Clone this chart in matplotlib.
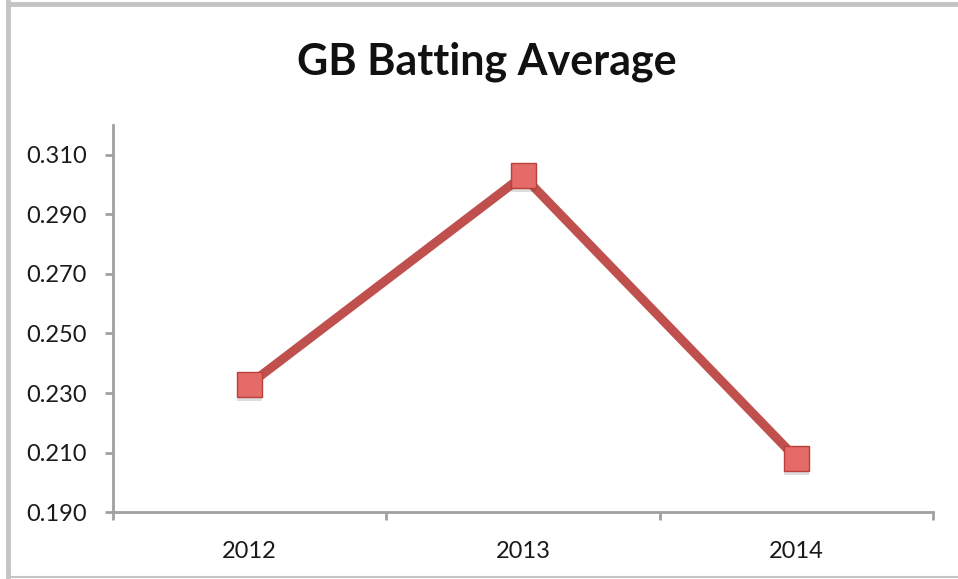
import matplotlib
matplotlib.use("Agg")
import matplotlib.pyplot as plt
import matplotlib.patheffects as pe
from matplotlib.lines import Line2D

years = ["2012", "2013", "2014"]
batting_avg = [0.233, 0.303, 0.208]
y_ticks = [0.190, 0.210, 0.230, 0.250, 0.270, 0.290, 0.310]

plt.rcParams['font.family'] = ['Lato', 'DejaVu Sans']

fig = plt.figure(figsize=(9.58, 5.79), dpi=100)
ax = fig.add_axes([0.118, 0.1157, 0.856, 0.668])

x = list(range(len(years)))
line_color = "#C0504D"
ax.plot(x, batting_avg, color=line_color, linewidth=6.5, solid_capstyle="butt",
        zorder=2)
ax.plot(x, batting_avg, linestyle="none", marker="s", markersize=18,
        markerfacecolor="#E56B68", markeredgecolor="#B9403D",
        markeredgewidth=1.0, zorder=3,
        path_effects=[pe.SimplePatchShadow(offset=(0, -3), alpha=0.2,
                                           shadow_rgbFace="#555555"),
                      pe.Normal()])

ax.set_xlim(-0.5, len(years) - 0.5)
ax.set_ylim(0.19, 0.32)

# category boundaries carry the tick marks, centres carry the labels
ax.set_xticks([i - 0.5 for i in range(len(years) + 1)])
ax.set_xticklabels([])
ax.set_xticks(x, minor=True)
ax.set_xticklabels(years, minor=True)
ax.tick_params(axis="x", which="major", direction="out", length=6,
               width=2, color="#A0A0A0")
ax.tick_params(axis="x", which="minor", length=0, pad=21,
               labelsize=17, labelcolor="#1a1a1a")

ax.set_yticks(y_ticks)
ax.set_yticklabels(["{:.3f}".format(v) for v in y_ticks])
ax.tick_params(axis="y", direction="out", length=6, width=2,
               color="#A0A0A0", pad=13, labelsize=17, labelcolor="#1a1a1a")

for side in ["top", "right"]:
    ax.spines[side].set_visible(False)
for side in ["left", "bottom"]:
    ax.spines[side].set_color("#A0A0A0")
    ax.spines[side].set_linewidth(2)

fig.text(0.508, 0.893, "GB Batting Average", ha="center", va="center",
         fontsize=31, fontweight="bold", color="#111111")

# grey frame of the chart area (left, top and bottom edges)
frame = "#C4C4C4"
fig.add_artist(Line2D([0.0087, 0.0087], [0.0, 0.9965], color=frame,
                      linewidth=3.5, transform=fig.transFigure))
fig.add_artist(Line2D([0.0087, 1.0], [0.9935, 0.9935], color=frame,
                      linewidth=3.5, transform=fig.transFigure))
fig.add_artist(Line2D([0.0087, 1.0], [0.0035, 0.0035], color=frame,
                      linewidth=1.5, transform=fig.transFigure))

fig.savefig("out.png", dpi=100)
